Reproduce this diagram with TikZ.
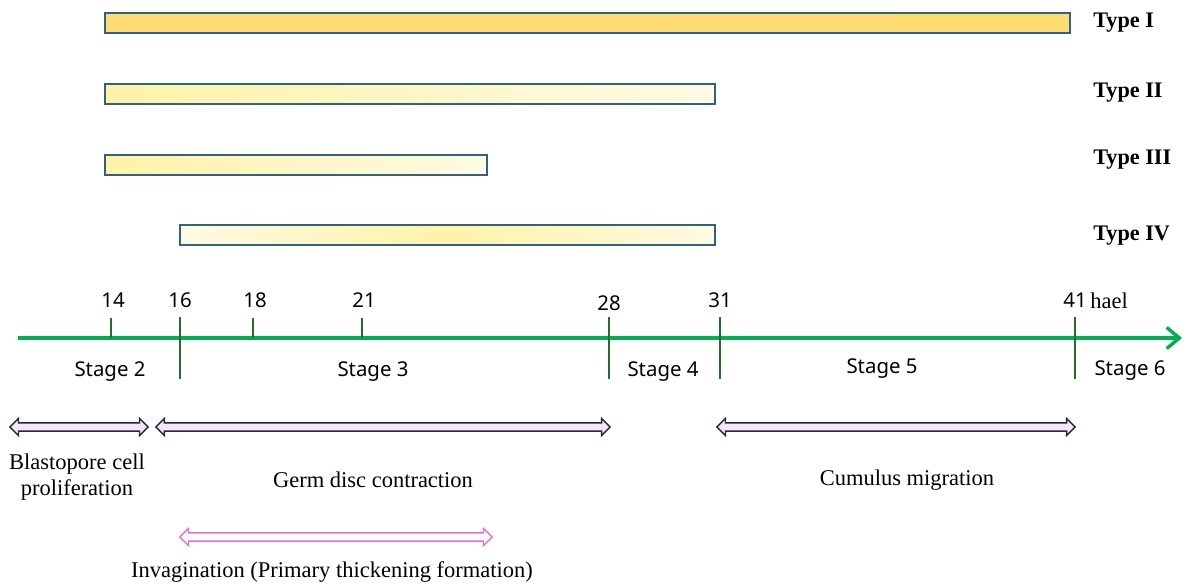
\documentclass[tikz,border=0pt]{standalone}
\usepackage{fontspec}
\setmainfont{Liberation Serif}
\newfontfamily\axisfont{Noto Sans}
\usetikzlibrary{arrows.meta, shapes.arrows}
\definecolor{barblue}{RGB}{45,100,130}
\definecolor{axisgreen}{RGB}{0,176,80}
\definecolor{tickgreen}{RGB}{35,110,45}
\definecolor{spandark}{RGB}{25,45,60}
\definecolor{spanpink}{RGB}{250,228,245}
\definecolor{invpink}{RGB}{225,115,210}
\definecolor{goldbar}{RGB}{255,219,112}
\definecolor{palebar}{RGB}{255,243,168}
\definecolor{creambar}{RGB}{255,250,228}

\tikzset{
  bar/.style={draw=barblue, line width=1.5pt},
  typelabel/.style={anchor=west, inner sep=0pt, font=\fontsize{15.8}{18}\selectfont\bfseries},
  ticklabel/.style={inner sep=0pt, font=\axisfont\fontsize{14.5}{16}\selectfont},
  stagelabel/.style={inner sep=0pt, font=\axisfont\fontsize{14.5}{16}\selectfont},
  span/.style={double arrow, draw=spandark, fill=spanpink, line width=1pt,
    inner sep=0.085cm, minimum width=0pt, double arrow head extend=0.11cm},
  phase/.style={inner sep=0pt, align=center, font=\fontsize{16}{19}\selectfont}
}

\begin{document}
\begin{tikzpicture}[x=0.025cm, y=-0.025cm]
  \useasboundingbox (0,0) rectangle (1184,586);

  % expression bars
  \draw[bar, left color=goldbar!95!palebar, right color=goldbar] (105,13) rectangle (1070,33);
  \draw[bar, left color=palebar, right color=creambar] (105,84) rectangle (715,104);
  \draw[bar, left color=palebar, right color=creambar] (105,155) rectangle (487,175);
  \draw[bar, left color=creambar, right color=creambar, middle color=palebar] (180,225) rectangle (715,245);

  \node[typelabel] (typeI)   at (1093,23)  {Type I};
  \node[typelabel] (typeII)  at (1093,93)  {Type II};
  \node[typelabel] (typeIII) at (1093,160) {Type III};
  \node[typelabel] (typeIV)  at (1093,236) {Type IV};

  % time axis
  \coordinate (axstart) at (18,338);
  \coordinate (axend) at (1182,338);
  \draw[axisgreen, line width=2.4pt, -{Straight Barb[length=9pt, width=15pt]}] (axstart) -- (axend);

  % short ticks
  \foreach \x/\n in {111/14, 253/18, 362/21}{
    \draw[tickgreen, line width=1.4pt] (\x,318) -- (\x,338);
    \node[ticklabel] (t\n) at (\x+2,300) {\n};
  }
  % stage borders
  \foreach \x/\n/\y in {180/16/300, 609/28/303, 720/31/300, 1075/41/300}{
    \draw[tickgreen, line width=1.4pt] (\x,317) -- (\x,379);
    \node[ticklabel] (t\n) at (\x,\y) {\n};
  }
  \node[anchor=west, inner sep=0pt, font=\fontsize{16}{18}\selectfont] (unit) at (1090,301) {hael};

  \node[stagelabel] (s2) at (110,372) {Stage 2};
  \node[stagelabel] (s3) at (373,372) {Stage 3};
  \node[stagelabel] (s4) at (663,372) {Stage 4};
  \node[stagelabel] (s5) at (882,369) {Stage 5};
  \node[stagelabel] (s6) at (1130,371) {Stage 6};

  % developmental events
  \node[span, minimum height=3.45cm] (blast) at (79,427) {};
  \node[span, minimum height=11.35cm] (germ) at (383,427) {};
  \node[span, minimum height=8.95cm] (cumulus) at (896,427) {};
  \node[span, draw=invpink, fill=white, minimum height=7.8cm] (invag) at (336,537) {};

  \node[phase] (blasttext) at (77,477) {Blastopore cell\\proliferation};
  \node[phase] (germtext) at (373,480) {Germ disc contraction};
  \node[phase] (cumtext) at (907,480) {Cumulus migration};
  \node[phase] (invtext) at (332,572) {Invagination (Primary thickening formation)};
\end{tikzpicture}
\end{document}
